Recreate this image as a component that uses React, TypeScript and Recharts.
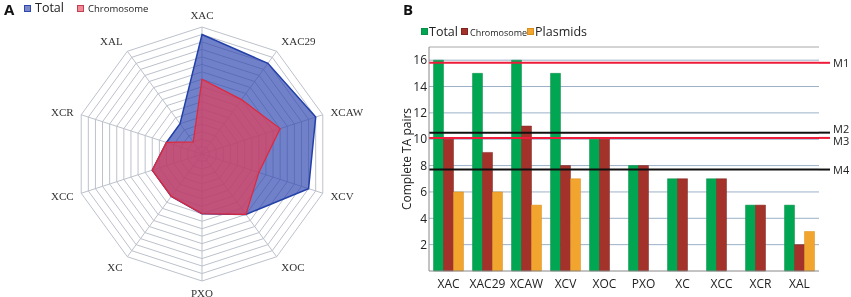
import {
  RadarChart,
  Radar,
  PolarGrid,
  PolarAngleAxis,
  PolarRadiusAxis,
  BarChart,
  Bar,
  XAxis,
  YAxis,
  CartesianGrid,
  ReferenceLine,
} from 'recharts'

const strains = ['XAC', 'XAC29', 'XCAW', 'XCV', 'XOC', 'PXO', 'XC', 'XCC', 'XCR', 'XAL']
const totalPairs = [16, 15, 16, 15, 10, 8, 7, 7, 5, 5]
const chromosomePairs = [10, 9, 11, 8, 10, 8, 7, 7, 5, 2]
const plasmidPairs = [6, 6, 5, 7, 0, 0, 0, 0, 0, 3]

const yTicks = [2, 4, 6, 8, 10, 12, 14, 16]
const gridValues = [1, 2, 3, 4, 5, 6, 7, 8, 9, 10, 11, 12, 13, 14, 15, 16]
const radarRings = [0, 1, 2, 3, 4, 5, 6, 7, 8, 9, 10, 11, 12, 13, 14, 15, 16, 17]

const markerNames = ['M1', 'M2', 'M3', 'M4']
const markerValues = [15.8, 10.5, 10.1, 7.7]
const markerColors = ['#ee1c3a', '#111111', '#ee1c3a', '#111111']

const SANS = '"Open Sans", "Liberation Sans", sans-serif'

const rows = strains.map((name, i) => ({
  name,
  Total: totalPairs[i],
  Chromosome: chromosomePairs[i],
  Plasmids: plasmidPairs[i],
}))

// little nudge so M2 / M3 labels don't sit on top of each other
const labelNudge: Record<string, number> = { M2: -4.5, M3: 3 }

function markerLabel(name: string, color: string) {
  return (props: any) => {
    const { x, y, width } = props.viewBox
    const end = x + width
    return (
      <g>
        <line x1={end} x2={end + 11} y1={y} y2={y} stroke={color} strokeWidth={2} />
        <text
          x={end + 14}
          y={y + (labelNudge[name] || 0)}
          dominantBaseline="central"
          fontSize={11}
          fontFamily={SANS}
          fill="#222"
        >
          {name}
        </text>
      </g>
    )
  }
}

function Swatch({ color, border, mr = 1, ml = 0 }: { color: string; border: string; mr?: number; ml?: number }) {
  return (
    <span
      style={{
        display: 'inline-block',
        width: 5,
        height: 5,
        background: color,
        border: `1px solid ${border}`,
        marginRight: mr,
        marginLeft: ml,
        verticalAlign: 'middle',
      }}
    />
  )
}

export default function App() {
  return (
    <div
      style={{
        position: 'fixed',
        left: 0,
        top: 0,
        width: 851,
        height: 297,
        background: '#fff',
        fontFamily: SANS,
      }}
    >
      {/* panel A */}
      <div style={{ position: 'absolute', left: 4, top: 0, fontSize: 15, lineHeight: '18px', fontWeight: 700, color: '#111' }}>A</div>
      <div style={{ position: 'absolute', left: 24, top: 1, fontSize: 12.5, lineHeight: '14px', color: '#222', whiteSpace: 'nowrap' }}>
        <Swatch color="#7b87c8" border="#2d46b0" mr={4} />
        <span>Total</span>
        <Swatch color="#f08a98" border="#c04050" mr={4} ml={13} />
        <span style={{ fontSize: 9.5 }}>Chromosome</span>
      </div>
      <div style={{ position: 'absolute', left: 0, top: 0 }}>
        <RadarChart
          width={400}
          height={297}
          data={rows}
          cx={202}
          cy={154}
          outerRadius={127}
          startAngle={90}
          endAngle={-270}
        >
          <PolarGrid gridType="polygon" stroke="#bcc1cb" strokeWidth={1} />
          <PolarRadiusAxis
            domain={[0, 17]}
            ticks={radarRings as any}
            tick={false}
            axisLine={false}
            tickLine={false}
          />
          <PolarAngleAxis
            dataKey="name"
            tickLine={false}
            tick={{ fontSize: 11, fill: '#333', fontFamily: '"Liberation Serif", serif' }}
          />
          <Radar
            dataKey="Total"
            stroke="#2340a8"
            strokeWidth={1.5}
            fill="#2d46b0"
            fillOpacity={0.68}
            isAnimationActive={false}
          />
          <Radar
            dataKey="Chromosome"
            stroke="#e2283a"
            strokeWidth={1.2}
            fill="#e0405c"
            fillOpacity={0.72}
            isAnimationActive={false}
          />
        </RadarChart>
      </div>

      {/* panel B */}
      <div style={{ position: 'absolute', left: 403, top: 0, fontSize: 15, lineHeight: '18px', fontWeight: 700, color: '#111' }}>B</div>
      <div style={{ position: 'absolute', left: 421, top: 23, lineHeight: '14px', color: '#222', whiteSpace: 'nowrap' }}>
        <Swatch color="#00a651" border="#0b8f48" />
        <span style={{ fontSize: 12.5, marginRight: 3 }}>Total</span>
        <Swatch color="#a3322b" border="#7d2420" mr={2} />
        <span style={{ fontSize: 9 }}>Chromosome</span>
        <Swatch color="#f2a52e" border="#d98d1a" />
        <span style={{ fontSize: 12.5 }}>Plasmids</span>
      </div>
      <div style={{ position: 'absolute', left: 400, top: 0 }}>
        <BarChart
          width={451}
          height={297}
          data={rows}
          margin={{ top: 47, right: 32, left: 0, bottom: 0 }}
          barGap={0}
          barCategoryGap={4.5}
        >
          <CartesianGrid vertical={false} stroke="#9bb0c8" horizontalValues={gridValues} />
          <XAxis
            dataKey="name"
            height={26}
            tickLine={false}
            axisLine={{ stroke: '#888' }}
            tick={{ fontSize: 12, fill: '#222', fontFamily: SANS }}
            tickMargin={2}
            interval={0}
          />
          <YAxis
            width={29}
            domain={[0, 17]}
            ticks={yTicks}
            tickLine={false}
            tickSize={2}
            axisLine={{ stroke: '#888' }}
            tick={{ fontSize: 12, fill: '#222', fontFamily: SANS }}
            tickMargin={0}
            label={{
              value: 'Complete TA pairs',
              angle: -90,
              position: 'insideLeft',
              offset: 7,
              style: { fontSize: 12, fill: '#222', fontFamily: SANS, textAnchor: 'middle' },
            }}
          />
          <YAxis
            yAxisId="frame"
            orientation="right"
            width={0}
            domain={[0, 17]}
            tick={false}
            tickLine={false}
            axisLine={{ stroke: '#a8a8a8' }}
          />
          <ReferenceLine y={17} stroke="#a8a8a8" />
          <Bar dataKey="Total" fill="#00a651" stroke="#0b8f48" strokeWidth={0.5} isAnimationActive={false} />
          <Bar dataKey="Chromosome" fill="#a3322b" stroke="#7d2420" strokeWidth={0.5} isAnimationActive={false} />
          <Bar dataKey="Plasmids" fill="#f2a52e" stroke="#d98d1a" strokeWidth={0.5} isAnimationActive={false} />
          {markerNames.map((m, i) => (
            <ReferenceLine
              key={m}
              y={markerValues[i]}
              stroke={markerColors[i]}
              strokeWidth={2}
              label={markerLabel(m, markerColors[i])}
            />
          ))}
        </BarChart>
      </div>
    </div>
  )
}
